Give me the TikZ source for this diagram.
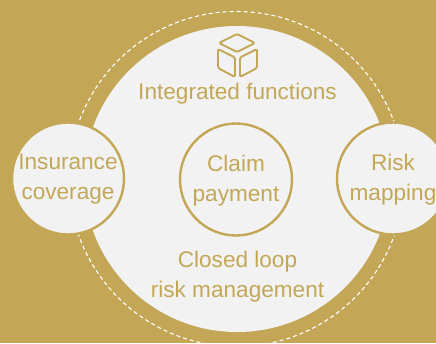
\documentclass[tikz,border=0pt]{standalone}
\usepackage{fontspec}
\setmainfont{Liberation Sans}
\usepackage{tikz}
\usetikzlibrary{positioning}
\definecolor{gold}{HTML}{C3A757}
\definecolor{paper}{HTML}{F2F2F2}

\begin{document}
\begin{tikzpicture}[
  x=1pt, y=-1pt,
  caption/.style = {text=gold, align=center, font=\fontsize{22.6}{30}\selectfont, inner sep=0pt},
  hub/.style = {circle, draw=gold, line width=2.4pt, fill=paper, minimum size=112pt, text depth=2.6pt, caption},
  facet/.style = {draw=gold, line width=1.9pt, rounded corners=1.5pt, line join=round}
]

  % Background
  \path[use as bounding box, fill=gold] (0,0) rectangle (436,343);

  % Rings
  \begin{scope}
    \clip (0,0) rectangle (436,343);
    \node[circle, draw=white, dash pattern=on 4pt off 3pt, line width=1.1pt, minimum size=335pt, inner sep=0pt] (ring) at (236.5,179) {};
    \node[circle, fill=paper, minimum size=306pt, inner sep=0pt] (disc) at (237,179) {};

    % Side circles
    \node[hub] (insurance) at (68,178.5) {Insurance\\coverage};
    \node[hub] (risk) at (393,178.5) {Risk\\mapping};
  \end{scope}

  % Centre
  \node[hub] (claim) at (236,179.5) {Claim\\payment};

  % Icon
  \draw[facet] (237,34) -- (255,43) -- (237,52) -- (219,43) -- cycle;
  \draw[facet] (218,49) -- (235,57.5) -- (235,77) -- (218,68) -- cycle;
  \draw[facet] (257,49) -- (240,57.5) -- (240,77) -- (257,68) -- cycle;

  % Labels
  \node[caption] (functions) at (237.5,93.5) {Integrated functions};
  \node[caption] (loop) at (237.5,277) {Closed loop\\risk management};

\end{tikzpicture}
\end{document}
